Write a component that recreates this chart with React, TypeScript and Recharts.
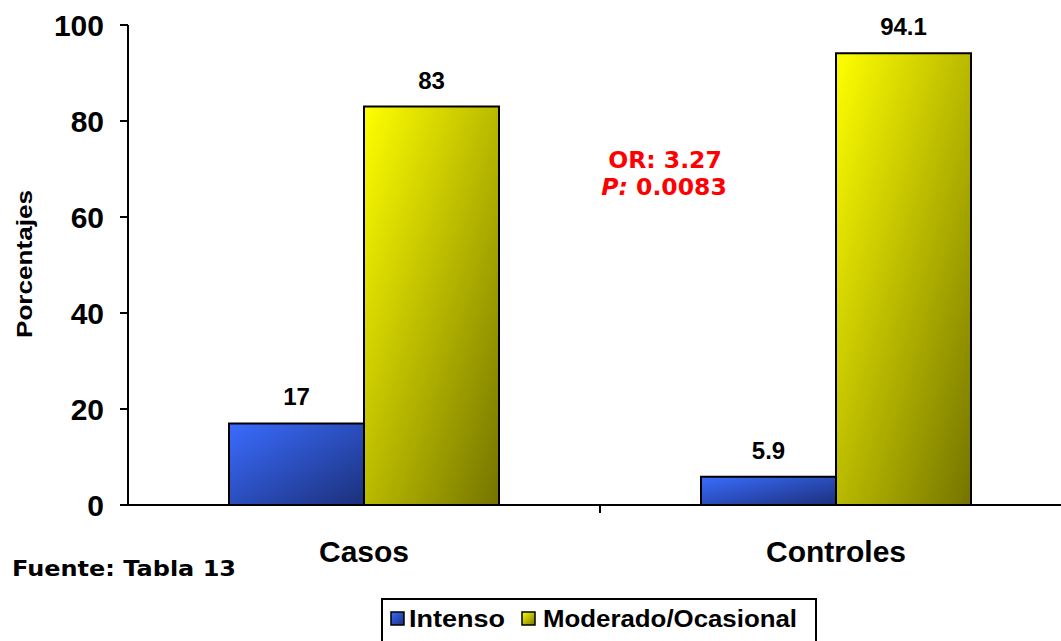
import React from 'react';
import { BarChart, Bar, XAxis, YAxis, Legend, LabelList } from 'recharts';

const categories = ['Casos', 'Controles'];
const intenso = [17, 5.9];
const moderado = [83, 94.1];
const seriesNames = ['Intenso', 'Moderado/Ocasional'];
const yTicks = [0, 20, 40, 60, 80, 100];
const yLabel = 'Porcentajes';
const sourceNote = 'Fuente: Tabla 13';
const orText = 'OR: 3.27';
const pLabel = 'P:';
const pValue = ' 0.0083';

const data = categories.map((name, i) => ({ name, intenso: intenso[i], moderado: moderado[i] }));

const ARIAL = '"Liberation Sans", Arial, sans-serif';
const VERDANA = '"DejaVu Sans", Verdana, sans-serif';

const XTick = (props: any) => {
  const { x, y, payload, index } = props;
  const sep = payload && typeof payload.offset === 'number' ? payload.offset : null;
  return (
    <g>
      <text x={x} y={y + 57} textAnchor="middle" fontSize={30} fontWeight={700} fontFamily={ARIAL} fill="#000">
        {payload.value}
      </text>
      {index === 0 && sep !== null ? (
        <line x1={x + sep} x2={x + sep} y1={y} y2={y + 8} stroke="#000" strokeWidth={2} />
      ) : null}
    </g>
  );
};

const LegendContent = () => (
  <svg width={436} height={50} style={{ display: 'block' }}>
    <defs>
      <linearGradient id="lgBlue" x1="0" y1="0" x2="1" y2="1">
        <stop offset="0%" stopColor="#3a6cff" />
        <stop offset="100%" stopColor="#1c307a" />
      </linearGradient>
      <linearGradient id="lgYellow" x1="0" y1="0" x2="1" y2="1">
        <stop offset="0%" stopColor="#ffff00" />
        <stop offset="100%" stopColor="#777700" />
      </linearGradient>
    </defs>
    <rect x={1} y={1} width={434} height={60} fill="#fff" stroke="#000" strokeWidth={2} />
    <rect x={10} y={14} width={13} height={13} fill="url(#lgBlue)" stroke="#000" strokeWidth={1.5} />
    <text x={28} y={29} fontSize={23} fontWeight={700} fontFamily={ARIAL} textLength={96} lengthAdjust="spacingAndGlyphs">
      {seriesNames[0]}
    </text>
    <rect x={141} y={14} width={13} height={13} fill="url(#lgYellow)" stroke="#000" strokeWidth={1.5} />
    <text x={162} y={29} fontSize={23} fontWeight={700} fontFamily={ARIAL} textLength={254} lengthAdjust="spacingAndGlyphs">
      {seriesNames[1]}
    </text>
  </svg>
);

export default function App() {
  return (
    <div style={{ position: 'fixed', left: 0, top: 0, width: 1061, height: 641, overflow: 'hidden', background: '#fff' }}>
      <BarChart
        width={1080}
        height={641}
        data={data}
        margin={{ top: 25, right: 8, left: 0, bottom: 76 }}
        barSize={135}
        barGap={0}
      >
        <defs>
          <linearGradient id="gBlue" x1="0" y1="0" x2="1" y2="1">
            <stop offset="0%" stopColor="#3a6cff" />
            <stop offset="100%" stopColor="#1c307a" />
          </linearGradient>
          <linearGradient id="gYellow" x1="0" y1="0" x2="1" y2="1">
            <stop offset="0%" stopColor="#ffff00" />
            <stop offset="100%" stopColor="#747400" />
          </linearGradient>
        </defs>
        <XAxis
          dataKey="name"
          height={60}
          tickLine={false}
          tickSize={0}
          tickMargin={0}
          axisLine={{ stroke: '#000', strokeWidth: 2 }}
          tick={<XTick />}
          interval={0}
        />
        <YAxis
          width={128}
          domain={[0, 100]}
          ticks={yTicks}
          tickSize={8}
          tickMargin={16}
          axisLine={{ stroke: '#000', strokeWidth: 2 }}
          tickLine={{ stroke: '#000', strokeWidth: 2 }}
          tick={{ fontSize: 30, fontWeight: 700, fontFamily: ARIAL, fill: '#000' }}
        />
        <Legend
          layout="horizontal"
          verticalAlign="middle"
          align="center"
          content={<LegendContent />}
          wrapperStyle={{ left: 381, top: 598, width: 436, height: 50 }}
        />
        <Bar dataKey="intenso" name={seriesNames[0]} fill="url(#gBlue)" stroke="#000" strokeWidth={2} isAnimationActive={false}>
          <LabelList dataKey="intenso" position="top" offset={18} style={{ fontSize: 24, fontWeight: 700, fontFamily: ARIAL, fill: '#000' }} />
        </Bar>
        <Bar dataKey="moderado" name={seriesNames[1]} fill="url(#gYellow)" stroke="#000" strokeWidth={2} isAnimationActive={false}>
          <LabelList dataKey="moderado" position="top" offset={18} style={{ fontSize: 24, fontWeight: 700, fontFamily: ARIAL, fill: '#000' }} />
        </Bar>
      </BarChart>
      <svg width={1061} height={641} style={{ position: 'absolute', left: 0, top: 0, pointerEvents: 'none' }}>
        <text
          transform="translate(32,264) rotate(-90)"
          textAnchor="middle"
          fontSize={22}
          fontWeight={700}
          fontFamily={ARIAL}
          textLength={148}
          lengthAdjust="spacingAndGlyphs"
          fill="#000"
        >
          {yLabel}
        </text>
        <text x={12} y={576} fontSize={22} fontWeight={700} fontFamily={VERDANA} textLength={224} lengthAdjust="spacingAndGlyphs" fill="#000">
          {sourceNote}
        </text>
        <text x={665} y={168} textAnchor="middle" fontSize={23.5} fontWeight={700} fontFamily={VERDANA} fill="#ff0000">
          {orText}
        </text>
        <text x={664} y={195} textAnchor="middle" fontSize={23.5} fontWeight={700} fontFamily={VERDANA} fill="#ff0000">
          <tspan fontStyle="italic">{pLabel}</tspan>
          <tspan>{pValue}</tspan>
        </text>
      </svg>
    </div>
  );
}
